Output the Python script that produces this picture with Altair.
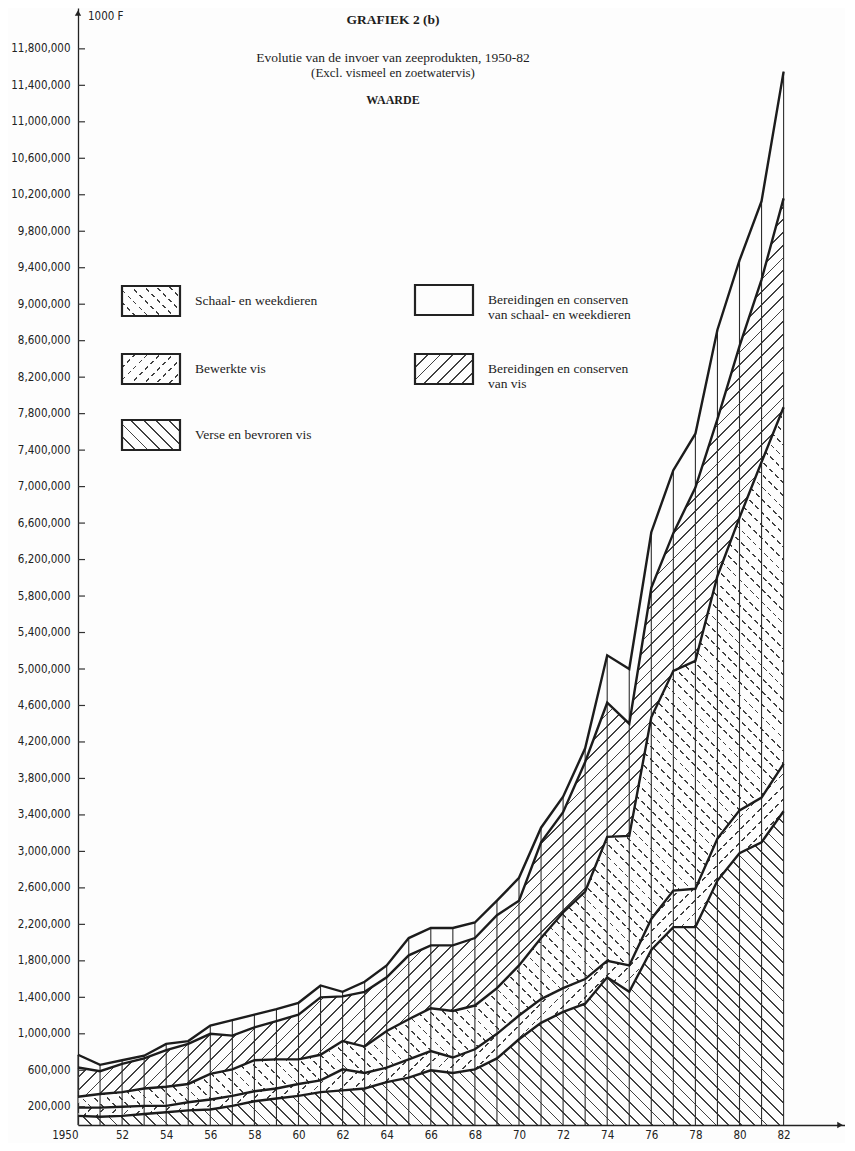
import math
import altair as alt
import pandas as pd

# ---------------- data (values in 1000 F) ----------------
YEARS = [1950, 1951, 1952, 1953, 1954, 1955, 1956, 1957, 1958, 1959,
         1960, 1961, 1962, 1963, 1964, 1965, 1966, 1967, 1968, 1969,
         1970, 1971, 1972, 1973, 1974, 1975, 1976, 1977, 1978, 1979,
         1980, 1981, 1982]

VERSE = [100000, 90000, 100000, 120000, 140000, 160000, 170000, 210000, 260000, 290000,
         320000, 360000, 380000, 400000, 470000, 520000, 600000, 570000, 610000, 730000,
         940000, 1120000, 1240000, 1330000, 1620000, 1460000, 1920000, 2170000, 2170000, 2680000,
         2980000, 3100000, 3440000]
BEWERKTE = [90000, 100000, 100000, 90000, 70000, 90000, 110000, 110000, 110000, 110000,
            130000, 130000, 230000, 170000, 160000, 200000, 210000, 170000, 220000, 270000,
            260000, 260000, 260000, 270000, 180000, 290000, 340000, 400000, 420000, 460000,
            470000, 490000, 520000]
SCHAAL = [120000, 150000, 160000, 190000, 210000, 200000, 280000, 290000, 340000, 320000,
          270000, 280000, 310000, 290000, 400000, 440000, 470000, 510000, 480000, 500000,
          550000, 670000, 830000, 960000, 1360000, 1420000, 2210000, 2410000, 2500000, 2880000,
          3210000, 3680000, 3910000]
BER_VIS = [320000, 250000, 310000, 330000, 400000, 440000, 440000, 370000, 360000, 420000,
           490000, 630000, 490000, 600000, 590000, 700000, 690000, 720000, 740000, 800000,
           710000, 1050000, 1100000, 1420000, 1470000, 1230000, 1420000, 1510000, 1900000, 1720000,
           1880000, 2000000, 2290000]
BER_SCHAAL = [140000, 70000, 40000, 30000, 70000, 30000, 90000, 170000, 140000, 130000,
              130000, 130000, 50000, 110000, 130000, 190000, 190000, 190000, 170000, 160000,
              250000, 160000, 170000, 150000, 520000, 600000, 610000, 690000, 590000, 980000,
              940000, 860000, 1390000]

SERIES_NAMES = ["Verse en bevroren vis", "Bewerkte vis", "Schaal- en weekdieren",
                "Bereidingen en conserven van vis",
                "Bereidingen en conserven van schaal- en weekdieren"]
SERIES_VALUES = [VERSE, BEWERKTE, SCHAAL, BER_VIS, BER_SCHAAL]

Y_TICKS = [200000, 600000, 1000000, 1400000, 1800000, 2200000, 2600000, 3000000,
           3400000, 3800000, 4200000, 4600000, 5000000, 5400000, 5800000, 6200000,
           6600000, 7000000, 7400000, 7800000, 8200000, 8600000, 9000000, 9400000,
           9800000, 10200000, 10600000, 11000000, 11400000, 11800000]
X_LABEL_YEARS = [1950, 1952, 1954, 1956, 1958, 1960, 1962, 1964, 1966, 1968,
                 1970, 1972, 1974, 1976, 1978, 1980, 1982]

TITLE = "GRAFIEK 2 (b)"
SUBTITLE_1 = "Evolutie van de invoer van zeeprodukten, 1950-82"
SUBTITLE_2 = "(Excl. vismeel en zoetwatervis)"
HEADING = "WAARDE"
UNIT = "1000 F"

# ---------------- layout / style ----------------
W_PX, H_PX = 767, 1117
PX_PER_YEAR = 22.05
PX_PER_MILLION = 91.2
X_MAX = 1950 + W_PX / PX_PER_YEAR
Y_MAX = H_PX / PX_PER_MILLION * 1e6
BG = "#fdfdfd"
INK = "#1c1c1c"
HATCH_INK = "#404040"
AXIS_FONT = "Liberation Sans Narrow, DejaVu Sans Condensed, sans-serif"
SERIF = "Liberation Serif, DejaVu Serif, serif"

px_x = W_PX / (X_MAX - 1950)
px_y = H_PX / Y_MAX

# ---------------- table ----------------
wide = pd.DataFrame({"year": YEARS})
cum = [0] * len(YEARS)
for i, vals in enumerate(SERIES_VALUES):
    wide[f"lo{i}"] = cum
    cum = [c + v for c, v in zip(cum, vals)]
    wide[f"hi{i}"] = cum
wide["total"] = cum
wide["zero"] = 0

long_rows = []
for i, name in enumerate(SERIES_NAMES):
    for y, v in zip(YEARS, wide[f"hi{i}"]):
        long_rows.append({"year": y, "boundary": name, "value": v})
long_df = pd.DataFrame(long_rows)


def hatch(kind, w, h, spacing, line_w, line_color, bg="rgba(255,255,255,0)"):
    """45-degree stripe fill built from a linear gradient in bounding-box units."""
    r = h / w
    k = (1 + r) / (1 + r * r)
    if kind == "back":  # '\' lines
        x1, y1, x2, y2 = 0, 1, k, 1 - k * r
    else:  # '/' lines
        x1, y1, x2, y2 = 0, 0, k, k * r
    n = max(1, int(round((w + h) / math.sqrt(2) / spacing)))
    frac = line_w / spacing
    stops = []
    for j in range(n):
        a = j / n
        b = (j + frac) / n
        c = (j + 1) / n
        stops += [{"offset": round(a, 6), "color": line_color},
                  {"offset": round(b, 6), "color": line_color},
                  {"offset": round(b, 6), "color": bg},
                  {"offset": round(c, 6), "color": bg}]
    return {"gradient": "linear", "x1": x1, "y1": y1, "x2": x2, "y2": y2, "stops": stops}


# hatch style per series: (direction, dashed)
HATCH_STYLE = {0: ("back", False), 1: ("fwd", True), 2: ("back", True), 3: ("fwd", False)}
SPACING = 9.0
LINE_W = 1.25
DASH_PERIOD = 8.0
DASH_GAP = 3.2

x_scale = alt.Scale(domain=[1950, X_MAX], nice=False, zero=False)
y_scale = alt.Scale(domain=[0, Y_MAX], nice=False, zero=False)

x_axis = alt.Axis(values=X_LABEL_YEARS, format="d",
                  labelExpr="datum.value == 1950 ? '1950' : slice(datum.label, 2)",
                  labelAlign={"condition": {"test": "datum.value == 1950", "value": "right"},
                              "value": "center"},
                  ticks=False, grid=False, title=None, domainColor="#222", domainWidth=1.3,
                  labelFont=AXIS_FONT, labelFontSize=11.5, labelColor="#222",
                  labelPadding=4, labelFlush=False, labelOverlap=False)
y_axis = alt.Axis(values=Y_TICKS, labelExpr="format(datum.value, ',')", ticks=False,
                  grid=False, title=None, domainColor="#222", domainWidth=1.3,
                  labelFont=AXIS_FONT, labelFontSize=11.5, labelColor="#222",
                  labelPadding=8, labelOverlap=False)


def X(field):
    return alt.X(field, scale=x_scale, axis=x_axis)


def Y(field):
    return alt.Y(field, scale=y_scale, axis=y_axis)


layers = []
area_w = (YEARS[-1] - YEARS[0]) * px_x
for i in range(4):
    kind, dashed = HATCH_STYLE[i]
    h = (max(wide[f"hi{i}"]) - min(wide[f"lo{i}"])) * px_y
    fill = hatch(kind, area_w, h, SPACING, LINE_W, HATCH_INK)
    layers.append(alt.Chart(wide).mark_area(fill=fill).encode(
        x=X("year:Q"), y=Y(f"lo{i}:Q"), y2=f"hi{i}:Q"))
    if dashed:
        perp = "fwd" if kind == "back" else "back"
        cut = hatch(perp, area_w, h, DASH_PERIOD, DASH_GAP, BG)
        layers.append(alt.Chart(wide).mark_area(fill=cut).encode(
            x=X("year:Q"), y=Y(f"lo{i}:Q"), y2=f"hi{i}:Q"))

# vertical year lines
layers.append(alt.Chart(wide).mark_rule(color="#2e2e2e", strokeWidth=1.1).encode(
    x=X("year:Q"), y=Y("zero:Q"), y2="total:Q"))

# boundary lines
layers.append(alt.Chart(long_df).mark_line(color=INK, strokeWidth=2.4).encode(
    x=X("year:Q"), y=Y("value:Q"), detail="boundary:N"))

# inward ticks on y axis
layers.append(alt.Chart(pd.DataFrame({"v": Y_TICKS})).mark_rule(color="#333", strokeWidth=1.2).encode(
    y=Y("v:Q"), x=alt.value(0), x2=alt.value(7)))

one = pd.DataFrame({"a": [0]})
# arrow heads
layers.append(alt.Chart(one).mark_point(shape="triangle-up", filled=True, color="#222",
                                        size=40, opacity=1).encode(
    x=alt.value(0), y=alt.value(5)))
layers.append(alt.Chart(one).mark_point(shape="triangle-right", filled=True, color="#222",
                                        size=40, opacity=1).encode(
    x=alt.value(W_PX - 5), y=alt.value(H_PX)))

# unit label
layers.append(alt.Chart(pd.DataFrame({"t": [UNIT]})).mark_text(
    align="left", baseline="middle", font=AXIS_FONT, fontSize=11.5, color="#222").encode(
    text="t:N", x=alt.value(10), y=alt.value(9)))

# titles
for text, y, size, weight in [(TITLE, 12, 13.5, "bold"), (SUBTITLE_1, 50, 13.5, "normal"),
                              (SUBTITLE_2, 65, 13, "normal"), (HEADING, 92, 12, "bold")]:
    layers.append(alt.Chart(pd.DataFrame({"t": [text]})).mark_text(
        align="center", baseline="middle", font=SERIF, fontSize=size, fontWeight=weight,
        color="#1e1e1e").encode(text="t:N", x=alt.value(315), y=alt.value(y)))

# legend
BOX_W, BOX_H = 58, 30
LEGEND_SLOTS = {2: (44, 278), 1: (44, 346), 0: (44, 412), 4: (337, 277), 3: (337, 346)}
for i, (bx, by) in LEGEND_SLOTS.items():
    name = SERIES_NAMES[i]
    label = name.replace(" van ", "\nvan ")
    ldf = pd.DataFrame({"label": [label]})
    pos = dict(x=alt.value(bx), x2=alt.value(bx + BOX_W), y=alt.value(by), y2=alt.value(by + BOX_H))
    if i in HATCH_STYLE:
        kind, dashed = HATCH_STYLE[i]
        layers.append(alt.Chart(ldf).mark_rect(
            fill=hatch(kind, BOX_W, BOX_H, SPACING, LINE_W, HATCH_INK)).encode(**pos))
        if dashed:
            perp = "fwd" if kind == "back" else "back"
            layers.append(alt.Chart(ldf).mark_rect(
                fill=hatch(perp, BOX_W, BOX_H, DASH_PERIOD, DASH_GAP, BG)).encode(**pos))
    layers.append(alt.Chart(ldf).mark_rect(filled=False, stroke="#222", strokeWidth=2.2).encode(**pos))
    layers.append(alt.Chart(ldf).mark_text(
        align="left", baseline="middle", font=SERIF, fontSize=13.5, lineBreak="\n",
        lineHeight=15, color="#1e1e1e").encode(
        text="label:N", x=alt.value(bx + BOX_W + 15), y=alt.value(by + BOX_H / 2)))

chart = alt.layer(*layers).properties(
    width=W_PX, height=H_PX,
    padding={"left": 70, "top": 0, "right": 0, "bottom": 18},
    autosize=alt.AutoSizeParams(type="none"),
    background=BG,
).configure_view(stroke=None)

chart.save("out.html", embed_options={"renderer": "svg", "actions": False})
